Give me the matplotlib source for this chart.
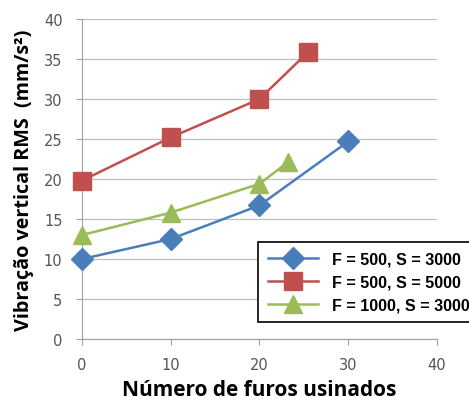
import matplotlib
matplotlib.use("Agg")
import matplotlib.pyplot as plt

x_blue = [0, 10, 20, 30]
y_blue = [10.0, 12.5, 16.7, 24.7]
x_red = [0, 10, 20, 25.5]
y_red = [19.8, 25.2, 30.0, 35.9]
x_green = [0, 10, 20, 23.2]
y_green = [13.0, 15.8, 19.4, 22.1]
labels = ["F = 500, S = 3000", "F = 500, S = 5000", "F = 1000, S = 3000"]
xticks = [0, 10, 20, 30, 40]
yticks = [0, 5, 10, 15, 20, 25, 30, 35, 40]

fig = plt.figure(figsize=(4.69, 4.02), dpi=100)
ax = fig.add_axes([0.1748, 0.1542, 0.757, 0.796])

ax.plot(x_blue, y_blue, color="#4a7ebb", lw=1.8, marker="D", ms=11.7, label=labels[0], zorder=3, clip_on=False)
ax.plot(x_red, y_red, color="#c0504d", lw=1.8, marker="s", ms=12.7, label=labels[1], zorder=3, clip_on=False)
ax.plot(x_green, y_green, color="#9bbb59", lw=1.8, marker="^", ms=13, label=labels[2], zorder=3, clip_on=False)

ax.set_xlim(0, 40)
ax.set_ylim(0, 40)
ax.set_xticks(xticks)
ax.set_yticks(yticks)
ax.yaxis.grid(True, color="#bfbfbf", lw=0.9)
ax.set_axisbelow(True)
for s in ["top", "right"]:
    ax.spines[s].set_visible(False)
for s in ["left", "bottom"]:
    ax.spines[s].set_color("#a0a0a0")
ax.tick_params(axis="both", colors="#a0a0a0", labelcolor="#555555", labelsize=10.5, length=4, direction="out")
ax.tick_params(axis="x", pad=9)
ax.tick_params(axis="y", pad=10)

ax.set_xlabel("Número de furos usinados", fontsize=15, fontweight="bold", family="Open Sans", labelpad=5)
ax.set_ylabel("Vibração vertical RMS  (mm/s²)", fontsize=14.2, fontweight="bold", family="Open Sans", labelpad=7)

leg = fig.legend(loc="upper left", bbox_to_anchor=(0.550, 0.3955),
                 frameon=True, fancybox=False, edgecolor="black", framealpha=1,
                 prop={"family": "Liberation Sans", "weight": "bold", "size": 11.6},
                 handlelength=3.1, labelspacing=0.5, borderpad=0.6, borderaxespad=0,
                 handletextpad=0.9)
leg.get_frame().set_linewidth(1.2)

fig.savefig("out.png", dpi=100)
